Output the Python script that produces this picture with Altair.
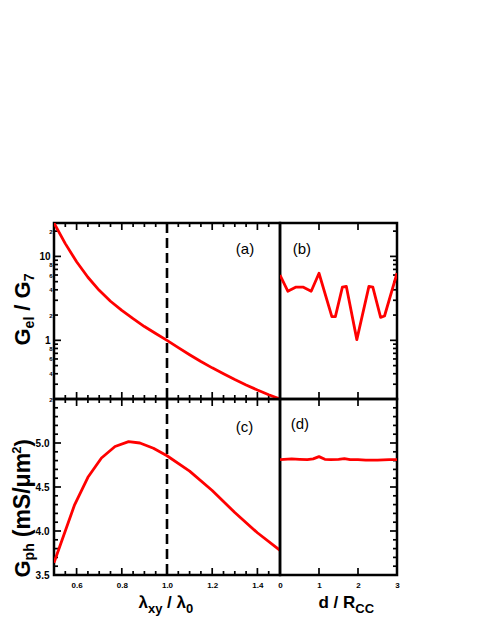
import altair as alt
import pandas as pd

# ---------------- data ----------------
a_x = [0.50, 0.55, 0.60, 0.65, 0.70, 0.75, 0.80, 0.85, 0.90, 0.95, 1.00,
       1.05, 1.10, 1.15, 1.20, 1.25, 1.30, 1.35, 1.40, 1.45, 1.50]
a_y = [25.0, 14.2, 8.63, 5.64, 3.94, 2.92, 2.27, 1.81, 1.46, 1.205, 1.0,
       0.818, 0.674, 0.56, 0.47, 0.399, 0.341, 0.294, 0.256, 0.225, 0.20]

b_x = [0.0, 0.2, 0.4, 0.6, 0.8, 1.0, 1.33, 1.42, 1.6, 1.7, 1.97, 2.28, 2.38, 2.58, 2.68, 3.0]
b_y = [6.0, 3.85, 4.3, 4.3, 3.85, 6.3, 1.92, 1.92, 4.3, 4.4, 1.02, 4.4, 4.3, 1.88, 1.95, 6.3]

c_x = [0.50, 0.59, 0.65, 0.71, 0.77, 0.83, 0.88, 0.94, 1.00, 1.10, 1.20, 1.30, 1.40, 1.50]
c_y = [3.64, 4.29, 4.61, 4.83, 4.96, 5.015, 5.0, 4.94, 4.855, 4.68, 4.46, 4.21, 3.98, 3.78]

d_x = [0.0, 0.3, 0.5, 0.7, 0.85, 1.0, 1.15, 1.3, 1.5, 1.65, 1.8, 2.0, 2.2, 2.5, 2.8, 3.0]
d_y = [4.81, 4.82, 4.815, 4.81, 4.82, 4.845, 4.815, 4.81, 4.815, 4.822, 4.81, 4.81, 4.805, 4.805, 4.81, 4.81]

ref_line_x = [1.0]

panel_tags = ["(a)", "(b)", "(c)", "(d)"]
tag_x = [1.345, 0.56, 1.343, 0.51]
tag_y = [12.4, 12.2, 5.177, 5.214]

# tick / label values
lam_major = [0.6, 0.8, 1.0, 1.2, 1.4]
lam_minor = [0.55, 0.65, 0.7, 0.75, 0.85, 0.9, 0.95, 1.05, 1.1, 1.15, 1.25, 1.3, 1.35, 1.45]
lam_labels = [0.6, 0.8, 1.0, 1.2, 1.4]
dr_major = [1, 2]
dr_labels = [0, 1, 2, 3]
gel_major = [1, 10]
gel_minor = [0.2, 0.3, 0.4, 0.5, 0.6, 0.7, 0.8, 0.9, 2, 3, 4, 5, 6, 7, 8, 9, 20]
gel_big_labels = [1, 10]
gel_small_labels = [0.2, 0.4, 0.6, 0.8, 2, 4, 6, 8, 20]
gph_major = [4.0, 4.5, 5.0]
gph_minor = [3.6, 3.7, 3.8, 3.9, 4.1, 4.2, 4.3, 4.4, 4.6, 4.7, 4.8, 4.9, 5.1, 5.2, 5.3, 5.4]
gph_labels = [3.5, 4.0, 4.5, 5.0]

FONT = "Liberation Sans"
RED = "#ff0000"
W_L, W_R, H = 226, 117, 176
MAJ, MIN = 7, 4

xs_l = alt.Scale(domain=[0.5, 1.5], nice=False, zero=False)
xs_r = alt.Scale(domain=[0, 3], nice=False, zero=False)
ys_log = alt.Scale(type="log", domain=[0.2, 25], nice=False)
ys_lin = alt.Scale(domain=[3.5, 5.5], nice=False, zero=False)

# approximate advance widths (bold Arial metrics) for placing title pieces
WID = {'G': .778, 'e': .556, 'l': .278, ' ': .278, '/': .278, '7': .556, 'p': .611,
       'h': .611, '(': .333, ')': .333, 'm': .889, 'S': .667, 'μ': .576, '2': .556,
       'λ': .556, 'x': .556, 'y': .556, '0': .556, 'd': .611, 'R': .722, 'C': .722}


def tw(s, size):
    return sum(WID.get(ch, 0.6) for ch in s) * size


def seq(pieces, start, direction):
    out, pos = [], start
    for text, size, shift, gap in pieces:
        pos += direction * gap
        out.append((text, size, shift, pos))
        pos += direction * tw(text, size)
    return out


def tick_rules(side, values, size, xscale, yscale, w):
    """Inward tick marks: placed through the panel's scale, drawn from the frame inward."""
    m = alt.Chart(pd.DataFrame({"v": values})).mark_rule(color="black", strokeWidth=1.7)
    if side == "top":
        return m.encode(x=alt.X("v:Q", scale=xscale, axis=None), y=alt.value(0), y2=alt.value(size))
    if side == "bottom":
        return m.encode(x=alt.X("v:Q", scale=xscale, axis=None), y=alt.value(H), y2=alt.value(H - size))
    if side == "left":
        return m.encode(y=alt.Y("v:Q", scale=yscale, axis=None), x=alt.value(0), x2=alt.value(size))
    return m.encode(y=alt.Y("v:Q", scale=yscale, axis=None), x=alt.value(w), x2=alt.value(w - size))


def label_axis(orient, values, size, pad, expr):
    return alt.Axis(orient=orient, values=values, labelExpr=expr, labelFont=FONT,
                    labelFontWeight="bold", labelFontSize=size, labelColor="black",
                    labelPadding=pad, labelFlush=False, labelOverlap=False,
                    ticks=False, tickSize=0, domain=False, grid=False, title=None, minExtent=0)


def title_axis(orient, text, tx, ty, size, angle):
    return alt.Axis(orient=orient, labels=False, ticks=False, domain=False, grid=False,
                    title=text, titleX=tx, titleY=ty, titleAngle=angle, titleAlign="left",
                    titleBaseline="alphabetic", titleFont=FONT, titleFontSize=size,
                    titleFontWeight="bold", titleColor="black", titlePadding=0, minExtent=0)


def ytitle(pieces, start, base):
    return [title_axis("left", t, base + sh, p, s, 270) for t, s, sh, p in seq(pieces, start, -1)]


def xtitle(pieces, start, base):
    return [title_axis("bottom", t, p, base + sh, s, 0) for t, s, sh, p in seq(pieces, start, 1)]


def panel(xv, yv, xscale, yscale, axis_pairs, ticks, idx, dashed, w):
    df = pd.DataFrame({"x": xv, "y": yv})
    layers = []
    for xa, ya in axis_pairs:
        layers.append(alt.Chart(df).mark_line(opacity=0).encode(
            x=alt.X("x:Q", scale=xscale, axis=xa),
            y=alt.Y("y:Q", scale=yscale, axis=ya)))
    for side, vals, size in ticks:
        layers.append(tick_rules(side, vals, size, xscale, yscale, w))
    if dashed:
        layers.append(alt.Chart(pd.DataFrame({"x": ref_line_x})).mark_rule(
            color="black", strokeWidth=2.6, strokeDash=[10, 5]).encode(
            x=alt.X("x:Q", scale=xscale, axis=None)))
    layers.append(alt.Chart(df).mark_line(color=RED, strokeWidth=2.8, clip=True,
                                          strokeJoin="round").encode(
        x=alt.X("x:Q", scale=xscale, axis=None),
        y=alt.Y("y:Q", scale=yscale, axis=None)))
    tag = pd.DataFrame({"x": [tag_x[idx]], "y": [tag_y[idx]], "t": [panel_tags[idx]]})
    layers.append(alt.Chart(tag).mark_text(font=FONT, fontSize=15, color="black").encode(
        x=alt.X("x:Q", scale=xscale, axis=None),
        y=alt.Y("y:Q", scale=yscale, axis=None),
        text="t:N"))
    return alt.layer(*layers).resolve_axis(x="independent", y="independent").properties(
        width=w, height=H)


small_expr = ("datum.value < 1 ? format(datum.value * 10, '.0f') : "
              "(datum.value < 10 ? format(datum.value, '.0f') : format(datum.value / 10, '.0f'))")

# ---- titles ----
YS, YSUB = 22, 14
YB = -25
ya_t = ytitle([("G", YS, 0, 0), ("el", YSUB, 4, 0), ("/ G", YS, 0, 6), ("7", YSUB, 4, 0)], 122, YB)
yc_t = ytitle([("G", YS, 0, 0), ("ph", YSUB, 4, 0), ("(mS/μm", 23, 0, 6), ("2", 13, -9, 0),
               (")", YS, 0, 0)], 178, YB)
XS, XSUB = 17, 13
xc_t = xtitle([("λ", XS, 0, 0), ("xy", XSUB, 5, 0), ("/ λ", XS, 0, 4.7), ("0", XSUB, 5, 0)], 84, 32)
xd_t = xtitle([("d / R", XS, 0, 0), ("CC", XSUB, 5, 0)], 38, 32)

# ---- panel (a) ----
pa_axes = [
    (None, label_axis("left", gel_big_labels, 10, 4, "datum.value == 10 ? '10' : '1'")),
    (None, label_axis("left", gel_small_labels, 6, 2, small_expr)),
] + [(None, t) for t in ya_t]
pa_ticks = [("top", lam_major, MAJ), ("top", lam_minor, MIN),
            ("bottom", lam_major, MAJ), ("bottom", lam_minor, MIN),
            ("left", gel_major, MAJ), ("left", gel_minor, MIN)]
pa = panel(a_x, a_y, xs_l, ys_log, pa_axes, pa_ticks, 0, True, W_L)

# ---- panel (b) ----
pb_ticks = [("top", dr_major, MAJ), ("bottom", dr_major, MAJ),
            ("right", gel_major, MAJ), ("right", gel_minor, MIN)]
pb = panel(b_x, b_y, xs_r, ys_log, [], pb_ticks, 1, False, W_R)

# ---- panel (c) ----
pc_axes = [
    (label_axis("bottom", lam_labels, 8, 6, "format(datum.value, '.1f')"),
     label_axis("left", gph_labels, 10, 5, "format(datum.value, '.1f')")),
]
n = max(len(xc_t), len(yc_t))
for i in range(n):
    pc_axes.append((xc_t[i] if i < len(xc_t) else None, yc_t[i] if i < len(yc_t) else None))
pc_ticks = [("top", lam_major, MAJ), ("top", lam_minor, MIN),
            ("bottom", lam_major, MAJ), ("bottom", lam_minor, MIN),
            ("left", gph_major, MAJ), ("left", gph_minor, MIN)]
pc = panel(c_x, c_y, xs_l, ys_lin, pc_axes, pc_ticks, 2, True, W_L)

# ---- panel (d) ----
pd_axes = [
    (label_axis("bottom", dr_labels, 8, 6, "format(datum.value, 'd')"), None),
] + [(t, None) for t in xd_t]
pd_ticks = [("top", dr_major, MAJ), ("bottom", dr_major, MAJ),
            ("right", gph_major, MAJ), ("right", gph_minor, MIN)]
pdn = panel(d_x, d_y, xs_r, ys_lin, pd_axes, pd_ticks, 3, False, W_R)

chart = alt.concat(pa, pb, pc, pdn, columns=2, spacing=0, bounds="flush", align="each").properties(
    padding={"left": 0, "top": 212, "right": 5, "bottom": 5}
).configure_view(stroke="black", strokeWidth=2.5).configure_axis(minExtent=0)

chart.save("out.html", embed_options={"renderer": "svg", "actions": False})
